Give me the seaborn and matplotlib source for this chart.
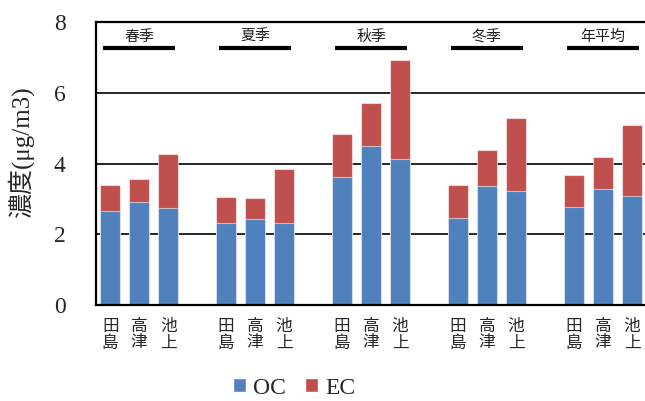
import matplotlib
matplotlib.use("Agg")
import matplotlib.pyplot as plt
from matplotlib.patches import Patch
import numpy as np
import pandas as pd
import seaborn as sns

# Seasonal carbon concentrations at three sites
seasons = ["春季", "夏季", "秋季", "冬季", "年平均"]
sites = ["田\n島", "高\n津", "池\n上"]
oc = [2.66, 2.91, 2.73,
      2.31, 2.43, 2.31,
      3.61, 4.50, 4.12,
      2.45, 3.36, 3.21,
      2.76, 3.29, 3.08]
ec = [0.73, 0.64, 1.55,
      0.74, 0.59, 1.53,
      1.22, 1.21, 2.80,
      0.95, 1.03, 2.08,
      0.91, 0.89, 2.00]
yticks = [0, 2, 4, 6, 8]

OC_COLOR = "#4F81BD"
EC_COLOR = "#C0504D"
SERIF = "Liberation Serif"
CJK = "Noto Sans CJK JP"

sns.set_theme(style="white")
plt.rcParams["font.family"] = [SERIF, CJK, "DejaVu Sans"]

n_sites = len(sites)
rows = []
for g, season in enumerate(seasons):
    for i, site in enumerate(sites):
        k = g * n_sites + i
        rows.append({"season": season, "site": site,
                     "pos": g * (n_sites + 1) + i,
                     "OC": oc[k], "EC": ec[k], "total": oc[k] + ec[k]})
df = pd.DataFrame(rows)

fig = plt.figure(figsize=(6.45, 4.01), dpi=100)
ax = fig.add_axes([96 / 645, 96 / 401, 549 / 645, 283 / 401])

edge = (1, 1, 1, 0.55)
sns.barplot(data=df, x="pos", y="total", native_scale=True, color=EC_COLOR,
            saturation=1, width=0.67, edgecolor=edge, linewidth=0.8, ax=ax)
sns.barplot(data=df, x="pos", y="OC", native_scale=True, color=OC_COLOR,
            saturation=1, width=0.67, edgecolor=edge, linewidth=0.8, ax=ax)

ax.set_xlim(-0.49, 18.45)
ax.set_ylim(0, 8)
ax.set_yticks(yticks)
ax.set_yticklabels([str(t) for t in yticks], fontsize=17, family=SERIF)
ax.tick_params(axis="y", length=0, pad=22)

ax.set_xticks(df["pos"])
ax.set_xticklabels(df["site"], fontsize=12, family=CJK, linespacing=1.0)
ax.tick_params(axis="x", length=0, pad=9)
ax.set_xlabel("")
ax.set_ylabel("")

for y in yticks[1:-1]:
    ax.axhline(y, color="black", lw=1.2, zorder=0.5)

for name in ["left", "top", "bottom"]:
    ax.spines[name].set_visible(True)
    ax.spines[name].set_color("black")
    ax.spines[name].set_linewidth(1.6)
ax.spines["right"].set_visible(False)

# Season headers with underline bars
for g, season in enumerate(seasons):
    cx = g * (n_sites + 1) + (n_sites - 1) / 2
    ax.hlines(7.27, cx - 1.24, cx + 1.24, color="black", lw=3)
    ax.text(cx, 7.57, season, ha="center", va="center", fontsize=10.8,
            family=CJK, color="#222222")

fig.text(21 / 645, 1 - 152 / 401, "濃度(μg/m3)", rotation=90, ha="center",
         va="center", fontsize=18, family=[SERIF, CJK])

handles = [Patch(facecolor=OC_COLOR, label="OC"),
           Patch(facecolor=EC_COLOR, label="EC")]
fig.legend(handles=handles, loc="center", bbox_to_anchor=(294 / 645, 0.032),
           ncol=2, frameon=False, prop={"family": SERIF, "size": 17},
           handlelength=0.55, handleheight=0.55, handletextpad=0.3,
           columnspacing=0.8, borderaxespad=0)

fig.savefig("out.png", dpi=100)
